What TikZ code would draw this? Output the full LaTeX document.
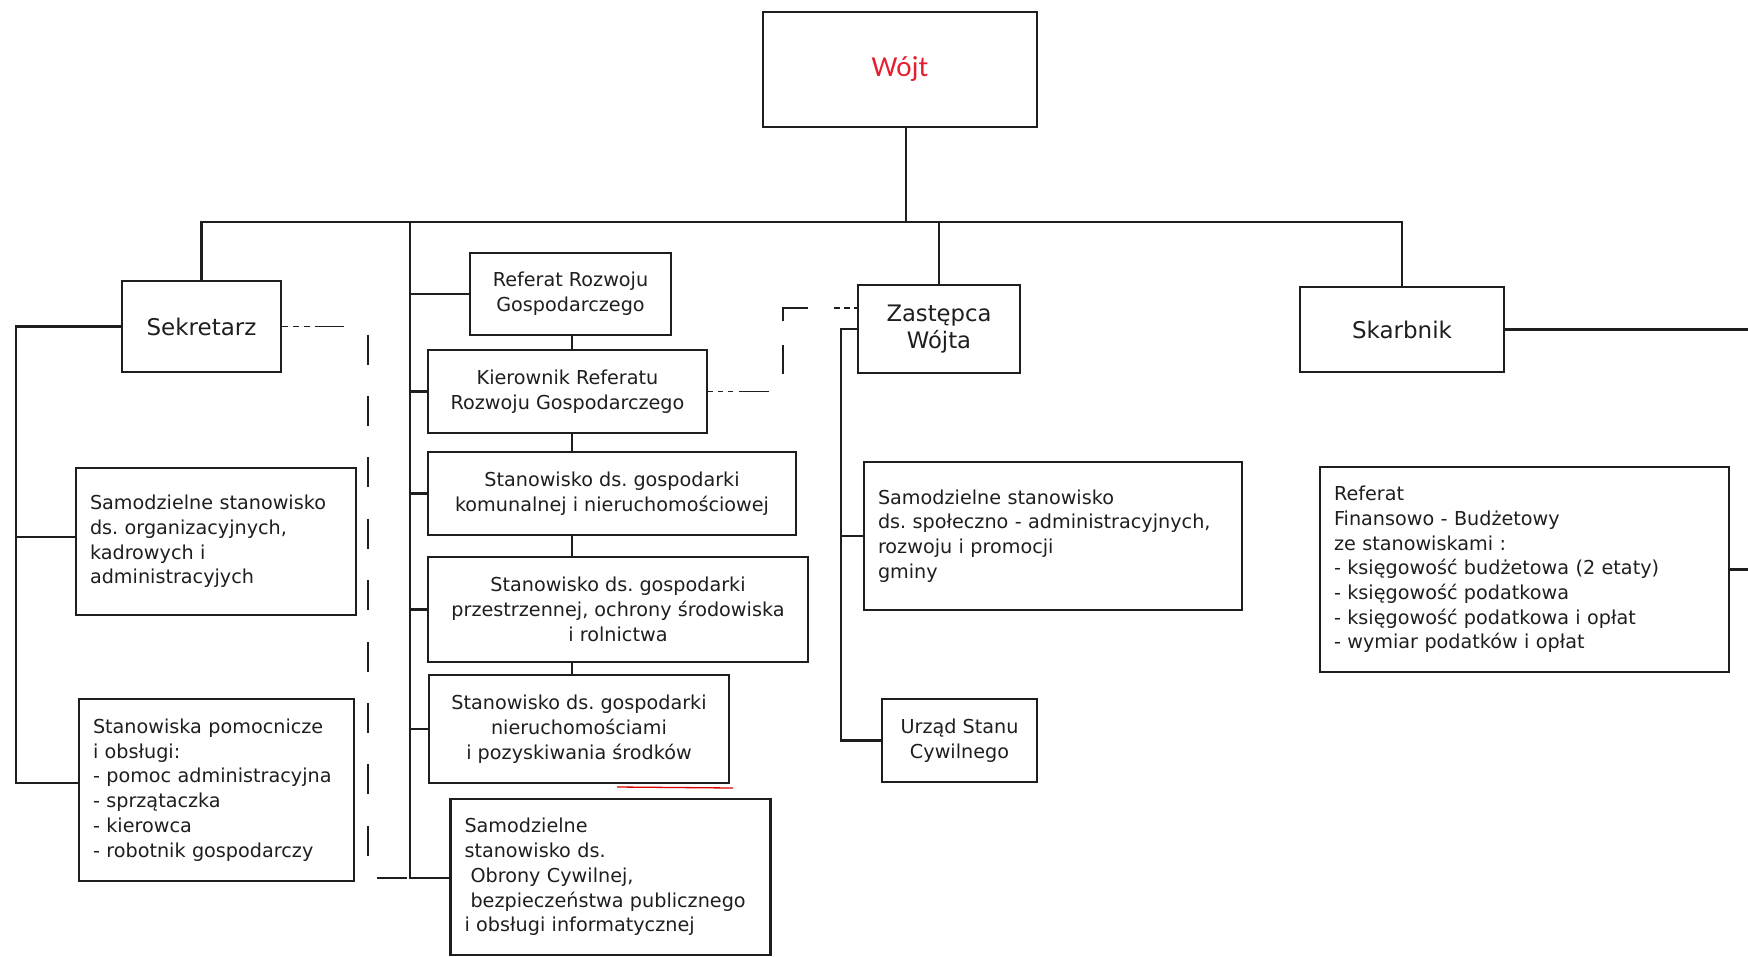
\documentclass[tikz,border=0pt]{standalone}
\usepackage{fontspec}
\setmainfont{DejaVu Sans}
\newfontfamily\wojtfont{Carlito}
\definecolor{ink}{RGB}{30,30,30}
\definecolor{wred}{RGB}{228,32,48}
\frenchspacing
\begin{document}
\begin{tikzpicture}[x=1pt,y=-1pt,
  box/.style={draw=ink, line width=2.2pt, inner sep=0pt, text=ink, font=\fontsize{19.2}{24.7}\selectfont},
  cbox/.style={box, align=center},
  lbox/.style={box, align=left, inner xsep=14pt},
  conn/.style={draw=ink, line width=2.2pt},
  dconn/.style={draw=ink, line width=1.9pt},
]
\useasboundingbox (0,0) rectangle (1748,956);

% ---- nodes ----
\node[box, minimum width=274pt, minimum height=115pt, text=wred, font=\wojtfont\fontsize{29}{34}\selectfont] (wojt) at (900,69.5) {Wójt};

\node[box, minimum width=159pt, minimum height=91pt, font=\fontsize{23}{27}\selectfont] (sek) at (201.5,326.5) {Sekretarz};
\node[lbox, text width=252pt, minimum height=147pt] (org) at (216,541.5) {Samodzielne stanowisko\\ds. organizacyjnych,\\kadrowych i\\administracyjych};
\node[lbox, text width=247pt, minimum height=182pt] (pom) at (216.5,790) {Stanowiska pomocnicze\\i obsługi:\\- pomoc administracyjna\\- sprzątaczka\\- kierowca\\- robotnik gospodarczy};

\node[cbox, minimum width=201pt, minimum height=82pt] (ref) at (570.5,294) {Referat Rozwoju\\Gospodarczego};
\node[cbox, minimum width=279pt, minimum height=83pt] (kier) at (567.5,391.5) {Kierownik Referatu\\Rozwoju Gospodarczego};
\node[cbox, minimum width=368pt, minimum height=83pt] (kom) at (612,493.5) {Stanowisko ds. gospodarki\\komunalnej i nieruchomościowej};
\node[cbox, minimum width=380pt, minimum height=105pt] (prz) at (618,609.5) {Stanowisko ds. gospodarki\\przestrzennej, ochrony środowiska\\i rolnictwa};
\node[cbox, minimum width=300pt, minimum height=108pt] (nier) at (579,729) {Stanowisko ds. gospodarki\\nieruchomościami\\i pozyskiwania środków};
\node[lbox, text width=292pt, minimum height=156pt] (obr) at (610.5,877) {Samodzielne\\stanowisko ds.\\\hspace*{6pt}Obrony Cywilnej,\\\hspace*{6pt}bezpieczeństwa publicznego\\i obsługi informatycznej};

\node[cbox, minimum width=162pt, minimum height=88pt, font=\fontsize{22.7}{27.5}\selectfont] (zast) at (939,329) {Zastępca\\Wójta};
\node[lbox, text width=350pt, minimum height=148pt] (spol) at (1053,536) {Samodzielne stanowisko\\ds. społeczno - administracyjnych,\\rozwoju i promocji\\gminy};
\node[cbox, minimum width=155pt, minimum height=83pt] (usc) at (959.5,740.5) {Urząd Stanu\\Cywilnego};

\node[box, minimum width=204pt, minimum height=85pt, font=\fontsize{23}{27}\selectfont] (skarb) at (1402,329.5) {Skarbnik};
\node[lbox, text width=381pt, minimum height=205pt] (fin) at (1524.5,569.5) {Referat\\Finansowo - Budżetowy\\ze stanowiskami :\\- księgowość budżetowa (2 etaty)\\- księgowość podatkowa\\- księgowość podatkowa i opłat\\- wymiar podatków i opłat};

% ---- helper coordinates ----
\coordinate (top) at (0,222);
\coordinate (wx) at (906,0);
\coordinate (la) at (16,783);
\coordinate (lorg) at (16,537);
\coordinate (bb) at (410,878);
\coordinate (cx) at (572,0);
\coordinate (zb) at (841,0);
\coordinate (dz) at (783,308);
\coordinate (dv) at (368,0);
\coordinate (re) at (1752,0);

% ---- connectors ----
\draw[conn] (wojt.south -| wx) -- (wx |- top);
\draw[conn] (sek.north) -- (sek.north |- top) -- (skarb.north |- top) -- (skarb.north);
\draw[conn] (zast.north) -- (zast.north |- top);

% Sekretarz branch
\draw[conn] (sek.west) -| (la) -- (la -| pom.west);
\draw[conn] (lorg) -- (lorg -| org.west);

% central bus
\draw[conn] (bb |- top) -- (bb) -- (bb -| obr.west);
\draw[conn] (bb |- ref.west) -- (ref.west);
\draw[conn] (bb |- kier.west) -- (kier.west);
\draw[conn] (bb |- kom.west) -- (kom.west);
\draw[conn] (bb |- prz.west) -- (prz.west);
\draw[conn] (bb |- nier.west) -- (nier.west);
\draw[conn] (cx |- ref.south) -- (cx |- kier.north);
\draw[conn] (cx |- kier.south) -- (cx |- kom.north);
\draw[conn] (cx |- kom.south) -- (cx |- prz.north);
\draw[conn] (cx |- prz.south) -- (cx |- nier.north);

% Zastepca bus
\draw[conn] (zast.west) -| (zb |- usc.west) -- (usc.west);
\draw[conn] (zb |- spol.west) -- (spol.west);

% Skarbnik
\draw[conn] (skarb.east) -- (re |- skarb.east);
\draw[conn] (fin.east) -- (re |- fin.east);

% dashed lines
\draw[dconn, dash pattern=on 6pt off 5pt on 6pt off 5pt on 6pt off 5pt on 29pt off 32pt
  on 30pt off 31.4pt on 30pt off 31.4pt on 30pt off 31.4pt on 30pt off 31.4pt on 30pt off 31.4pt
  on 30pt off 31.4pt on 30pt off 31.4pt on 30pt off 31.4pt on 30pt off 31.4pt on 30pt off 20pt]
  (sek.east) -- (dv |- sek.east) -- (dv |- bb) -- (bb);
\draw[dconn, dash pattern=on 5pt off 5pt on 5pt off 5pt on 5pt off 6pt on 30pt off 31pt on 29pt off 24pt on 38pt off 26pt on 6pt off 4pt on 6pt off 4pt on 10pt off 10pt]
  (kier.east) -| (dz) -- (dz -| zast.west);

% red pen mark
\draw[red!85!black, line width=1.3pt] (617,787) -- (733,788);
\end{tikzpicture}
\end{document}
